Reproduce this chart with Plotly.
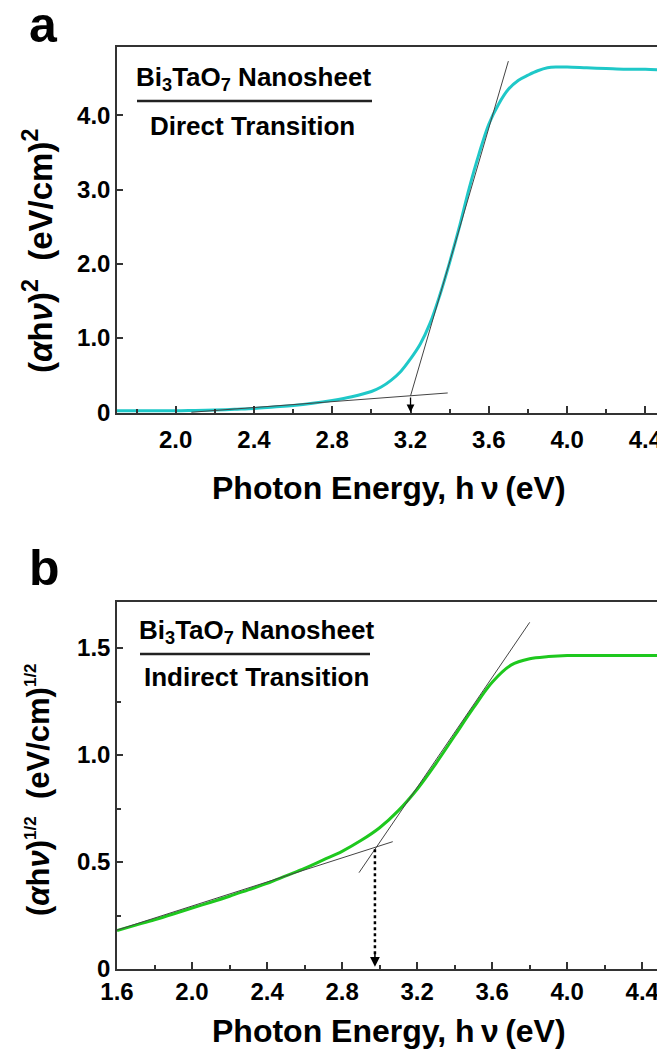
import plotly.graph_objects as go

# The page body has an 8 px margin; the figure is sized so it fits the 665x1061 window.
OFF = 8
W, H = 665 - OFF, 1061 - 16

# ---------------- data: panel a (direct transition) ----------------
energy_a = [1.70, 1.80, 1.90, 2.00, 2.10, 2.20, 2.30, 2.40, 2.50, 2.60, 2.70, 2.80,
            2.90, 3.00, 3.05, 3.10, 3.15, 3.20, 3.25, 3.30, 3.35, 3.40, 3.45, 3.50,
            3.55, 3.60, 3.65, 3.70, 3.75, 3.80, 3.85, 3.90, 3.95, 4.00, 4.10, 4.20,
            4.30, 4.40, 4.48]
direct_a = [0.02, 0.02, 0.02, 0.02, 0.025, 0.03, 0.04, 0.05, 0.07, 0.09, 0.12, 0.16,
            0.21, 0.28, 0.34, 0.43, 0.55, 0.72, 0.92, 1.20, 1.58, 2.02, 2.50, 3.02,
            3.48, 3.88, 4.15, 4.35, 4.47, 4.54, 4.60, 4.64, 4.65, 4.65, 4.64, 4.63,
            4.62, 4.62, 4.61]
tan_a_base_x = [2.08, 3.39]
tan_a_base_y = [0.00, 0.26]
tan_a_steep_x = [3.20, 3.70]
tan_a_steep_y = [0.22, 4.73]
eg_direct = 3.20

# ---------------- data: panel b (indirect transition) ----------------
energy_b = [1.6, 1.7, 1.8, 1.9, 2.0, 2.1, 2.2, 2.3, 2.4, 2.5, 2.6, 2.7, 2.8, 2.9,
            3.0, 3.1, 3.2, 3.3, 3.4, 3.5, 3.6, 3.7, 3.8, 3.9, 4.0, 4.1, 4.2, 4.3,
            4.4, 4.5]
indirect_b = [0.18, 0.205, 0.23, 0.257, 0.285, 0.312, 0.34, 0.37, 0.40, 0.435, 0.47,
              0.51, 0.55, 0.60, 0.66, 0.74, 0.84, 0.96, 1.09, 1.22, 1.34, 1.42, 1.45,
              1.46, 1.465, 1.465, 1.465, 1.465, 1.465, 1.465]
tan_b_low_x = [1.54, 3.07]
tan_b_low_y = [0.165, 0.595]
tan_b_steep_x = [2.89, 3.80]
tan_b_steep_y = [0.45, 1.62]
eg_indirect = 2.975
eg_indirect_y = 0.56

# tick labels
yticks_a = [0, 1, 2, 3, 4]
ytext_a = ["0", "1.0", "2.0", "3.0", "4.0"]
yticks_b = [0, 0.5, 1.0, 1.5]
ytext_b = ["0", "0.5", "1.0", "1.5"]
yminor_b = [0.25, 0.75, 1.25]

FONT = "Liberation Sans, Arial, sans-serif"
AXC = "#333333"
CYAN = "#1fc8c8"
GREEN = "#1ec81e"
TAN = "#444444"


def pxx(x):
    return (x - OFF) / W


def pxy(y):
    return 1 - (y - OFF) / H


fig = go.Figure()

# panel a
fig.add_trace(go.Scatter(x=energy_a, y=direct_a, mode="lines", line=dict(color=CYAN, width=3, shape="spline"),
                         xaxis="x", yaxis="y", showlegend=False))
fig.add_trace(go.Scatter(x=tan_a_base_x, y=tan_a_base_y, mode="lines", line=dict(color=TAN, width=1),
                         xaxis="x", yaxis="y", showlegend=False))
fig.add_trace(go.Scatter(x=tan_a_steep_x, y=tan_a_steep_y, mode="lines", line=dict(color=TAN, width=1),
                         xaxis="x", yaxis="y", showlegend=False))

# panel b
fig.add_trace(go.Scatter(x=energy_b, y=indirect_b, mode="lines", line=dict(color=GREEN, width=3, shape="spline"),
                         xaxis="x2", yaxis="y2", showlegend=False))
fig.add_trace(go.Scatter(x=tan_b_low_x, y=tan_b_low_y, mode="lines", line=dict(color=TAN, width=1),
                         xaxis="x2", yaxis="y2", showlegend=False))
fig.add_trace(go.Scatter(x=tan_b_steep_x, y=tan_b_steep_y, mode="lines", line=dict(color=TAN, width=1),
                         xaxis="x2", yaxis="y2", showlegend=False))
fig.add_trace(go.Scatter(x=[eg_indirect, eg_indirect], y=[eg_indirect_y, 0.05], mode="lines",
                         line=dict(color="black", width=2.5, dash="dot"),
                         xaxis="x2", yaxis="y2", showlegend=False))

xdom = [pxx(117), pxx(661)]
tickfont = dict(family=FONT, size=24, color="black", weight="bold")
common_x = dict(showline=True, mirror=True, linecolor=AXC, linewidth=1.5, ticks="inside",
                ticklen=7, tickwidth=2, tickcolor=AXC, showgrid=False, zeroline=False,
                tickfont=tickfont, tickformat=".1f", dtick=0.4, automargin=False,
                minor=dict(ticks="inside", ticklen=4, tickwidth=1.5, tickcolor=AXC, dtick=0.2, showgrid=False))
common_y = dict(showline=True, mirror=True, linecolor=AXC, linewidth=1.5, ticks="inside",
                ticklen=6, tickwidth=1.5, tickcolor=AXC, showgrid=False, zeroline=False,
                tickfont=tickfont, tickmode="array", automargin=False)

fig.update_layout(
    width=W, height=H, margin=dict(l=0, r=0, t=0, b=0, pad=0),
    paper_bgcolor="white", plot_bgcolor="white",
    xaxis=dict(domain=xdom, anchor="y", range=[1.7, 4.48], tick0=2.0, ticklabelstandoff=4, **common_x),
    yaxis=dict(domain=[pxy(413), pxy(47)], anchor="x", range=[-0.01, 4.92],
               tickvals=yticks_a, ticktext=ytext_a, **common_y),
    xaxis2=dict(domain=xdom, anchor="y2", range=[1.6, 4.5], tick0=1.6, **common_x),
    yaxis2=dict(domain=[pxy(969), pxy(602)], anchor="x2", range=[0, 1.715],
                tickvals=yticks_b, ticktext=ytext_b,
                **{**common_y, "minor": dict(ticks="inside", ticklen=4, tickwidth=1.5, tickcolor=AXC,
                                              tickmode="array", tickvals=yminor_b, showgrid=False)}),
)

ann = []


def bold(sz):
    return dict(family=FONT, size=sz, color="black", weight="bold")


# panel letters
ann.append(dict(text="a", x=pxx(43), y=pxy(25), xref="paper", yref="paper", showarrow=False,
                font=bold(50), xanchor="center", yanchor="middle"))
ann.append(dict(text="b", x=pxx(44), y=pxy(568), xref="paper", yref="paper", showarrow=False,
                font=bold(50), xanchor="center", yanchor="middle"))

# x titles
for yy in (488, 1031):
    ann.append(dict(text="Photon Energy, h\u2009ν\u2009(eV)", x=pxx(389), y=pxy(yy), xref="paper", yref="paper",
                    showarrow=False, font=bold(32), xanchor="center", yanchor="middle"))

# y titles
ann.append(dict(text="(<i>α</i>h<i>ν</i>)<sup>2</sup>\u00a0\u00a0(eV/cm)<sup>2</sup>", x=pxx(38), y=pxy(251),
                xref="paper", yref="paper", showarrow=False, textangle=-90,
                font=bold(33), xanchor="center", yanchor="middle"))
ann.append(dict(text="(<i>α</i>h<i>ν</i>)<sup><span style='font-size:17px'>1/2</span></sup>\u00a0\u00a0(eV/cm)"
                     "<sup><span style='font-size:17px'>1/2</span></sup>", x=pxx(38), y=pxy(790),
                xref="paper", yref="paper", showarrow=False, textangle=-90,
                font=bold(31), xanchor="center", yanchor="middle"))

# inset labels
ann.append(dict(text="Bi<sub>3</sub>TaO<sub>7</sub> Nanosheet", x=pxx(253), y=pxy(78), xref="paper", yref="paper",
                showarrow=False, font=bold(26), xanchor="center", yanchor="middle"))
ann.append(dict(text="Direct Transition", x=pxx(252), y=pxy(126), xref="paper", yref="paper",
                showarrow=False, font=bold(26), xanchor="center", yanchor="middle"))
ann.append(dict(text="Bi<sub>3</sub>TaO<sub>7</sub> Nanosheet", x=pxx(256), y=pxy(631), xref="paper", yref="paper",
                showarrow=False, font=bold(26), xanchor="center", yanchor="middle"))
ann.append(dict(text="Indirect Transition", x=pxx(256), y=pxy(677), xref="paper", yref="paper",
                showarrow=False, font=bold(26), xanchor="center", yanchor="middle"))

# arrows
ann.append(dict(text="", x=eg_direct, y=0.0, ax=eg_direct, ay=tan_a_steep_y[0], xref="x", yref="y",
                axref="x", ayref="y", showarrow=True, arrowhead=2, arrowsize=1.2, arrowwidth=1.3,
                arrowcolor="black"))
ann.append(dict(text="", x=eg_indirect, y=0.01, ax=eg_indirect, ay=0.08, xref="x2", yref="y2",
                axref="x2", ayref="y2", showarrow=True, arrowhead=2, arrowsize=1.3, arrowwidth=1.5,
                arrowcolor="black"))

fig.update_layout(annotations=ann)

shapes = [
    dict(type="line", xref="paper", yref="paper", x0=pxx(137), x1=pxx(372), y0=pxy(101), y1=pxy(101),
         line=dict(color="#222222", width=2.5)),
    dict(type="line", xref="paper", yref="paper", x0=pxx(140), x1=pxx(370), y0=pxy(654), y1=pxy(654),
         line=dict(color="#222222", width=2.5)),
]
fig.update_layout(shapes=shapes)

fig.write_html("out.html")
